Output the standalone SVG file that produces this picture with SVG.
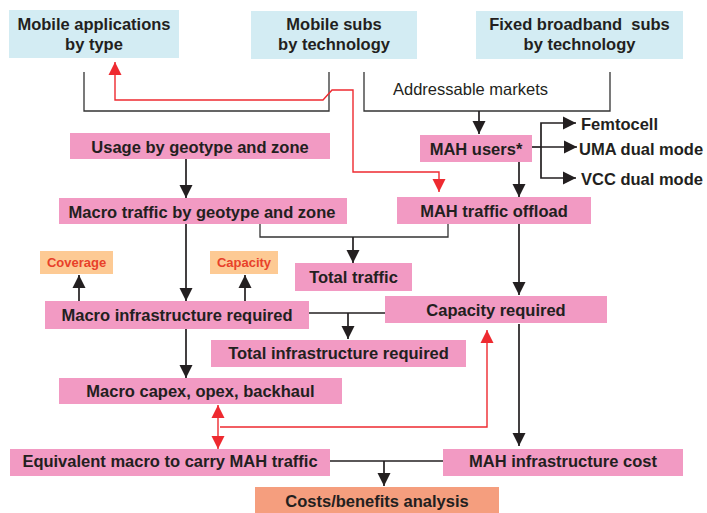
<svg xmlns="http://www.w3.org/2000/svg" width="707" height="513" viewBox="0 0 707 513">
<style>
.t{font-family:"Liberation Sans",Arial,sans-serif;font-weight:bold;font-size:16.5px;fill:#231f20;text-anchor:middle}
.s{font-family:"Liberation Sans",Arial,sans-serif;font-weight:bold;font-size:13px;fill:#e8412a;text-anchor:middle}
.n{font-family:"Liberation Sans",Arial,sans-serif;font-size:16.5px;fill:#231f20}
.l{font-family:"Liberation Sans",Arial,sans-serif;font-weight:bold;font-size:16.5px;fill:#231f20}
.blue{fill:#d3ecf3}
.pink{fill:#f29ac3}
.peach{fill:#fdca94}
.salmon{fill:#f59e7e}
.c{fill:none;stroke:#231f20;stroke-width:1.7}
.g{fill:none;stroke:#333;stroke-width:1.3}
.r{fill:none;stroke:#ee2a30;stroke-width:1.4}
</style>
<defs>
<marker id="ab" markerUnits="userSpaceOnUse" markerWidth="14" markerHeight="14" viewBox="0 0 14 14" refX="13" refY="7" orient="auto-start-reverse"><path d="M0,0.5 L13,7 L0,13.5 Z" fill="#231f20"/></marker>
<marker id="ar" markerUnits="userSpaceOnUse" markerWidth="14" markerHeight="14" viewBox="0 0 14 14" refX="13" refY="7" orient="auto-start-reverse"><path d="M0,0.5 L13,7 L0,13.5 Z" fill="#ee2a30"/></marker>
</defs>
<g id="connectors">
<polyline class="g" points="84,72 84,111 329,111 329,72"/>
<polyline class="g" points="364,72 364,111 610,111 610,72"/>
<line class="c" x1="479" y1="111" x2="479" y2="134" marker-end="url(#ab)"/>
<polyline class="r" points="115,62 115,100 323,100 332,90 353,90 353,172 439,172 439,192" marker-start="url(#ar)" marker-end="url(#ar)"/>
<polyline class="c" points="532,147 541,147"/>
<polyline class="c" points="576,123 541,123 541,178 576,178" marker-start="url(#ab)" marker-end="url(#ab)"/>
<line class="c" x1="541" y1="147" x2="577" y2="147" marker-end="url(#ab)"/>
<line class="c" x1="519" y1="162" x2="519" y2="197" marker-end="url(#ab)"/>
<polyline class="g" points="448,224 448,237 260,237 260,224"/>
<line class="c" x1="353" y1="237" x2="353" y2="263" marker-end="url(#ab)"/>
<line class="c" x1="186" y1="159" x2="186" y2="198" marker-end="url(#ab)"/>
<line class="c" x1="186" y1="224" x2="186" y2="301" marker-end="url(#ab)"/>
<line class="c" x1="79" y1="301" x2="79" y2="275" marker-end="url(#ab)"/>
<line class="c" x1="245" y1="301" x2="245" y2="275" marker-end="url(#ab)"/>
<line class="c" x1="519" y1="224" x2="519" y2="295" marker-end="url(#ab)"/>
<line class="c" x1="309" y1="313" x2="385" y2="313"/>
<line class="c" x1="348" y1="313" x2="348" y2="339" marker-end="url(#ab)"/>
<line class="c" x1="186" y1="329" x2="186" y2="378" marker-end="url(#ab)"/>
<line class="r" x1="218" y1="405" x2="218" y2="449" marker-start="url(#ar)" marker-end="url(#ar)"/>
<polyline class="r" points="220,427 487,427 487,330" marker-end="url(#ar)"/>
<line class="c" x1="519" y1="324" x2="519" y2="446" marker-end="url(#ab)"/>
<line class="c" x1="330" y1="461" x2="443" y2="461"/>
<line class="c" x1="384" y1="461" x2="384" y2="486" marker-end="url(#ab)"/>
</g>
<g id="mobile-apps"><rect class="blue" x="9" y="10" width="170" height="48"/><text class="t" x="94" y="30">Mobile applications</text><text class="t" x="94" y="50">by type</text></g>
<g id="mobile-subs"><rect class="blue" x="251" y="11" width="166" height="48"/><text class="t" x="334" y="30">Mobile subs</text><text class="t" x="334" y="50">by technology</text></g>
<g id="fixed-subs"><rect class="blue" x="476" y="11" width="207" height="48"/><text class="t" x="579.5" y="30" xml:space="preserve">Fixed broadband  subs</text><text class="t" x="579.5" y="50">by technology</text></g>
<g id="addressable"><text class="n" x="393" y="95">Addressable markets</text></g>
<g id="mah-users"><rect class="pink" x="420" y="135" width="112" height="27"/><text class="t" x="476" y="154.5">MAH users*</text></g>
<g id="femtocell"><text class="l" x="581" y="130">Femtocell</text></g>
<g id="uma"><text class="l" x="579" y="154.5">UMA dual mode</text></g>
<g id="vcc"><text class="l" x="581" y="185">VCC dual mode</text></g>
<g id="usage"><rect class="pink" x="70" y="133" width="260" height="26"/><text class="t" x="200" y="152.5">Usage by geotype and zone</text></g>
<g id="macro-traffic"><rect class="pink" x="59" y="198" width="288" height="26"/><text class="t" x="202" y="217.5">Macro traffic by geotype and zone</text></g>
<g id="mah-offload"><rect class="pink" x="397" y="197" width="194" height="27"/><text class="t" x="494" y="216.5">MAH traffic offload</text></g>
<g id="coverage"><rect class="peach" x="40" y="251" width="73" height="23"/><text class="s" x="76.5" y="267.3">Coverage</text></g>
<g id="capacity"><rect class="peach" x="210" y="251" width="68" height="23"/><text class="s" x="244" y="267.3">Capacity</text></g>
<g id="total-traffic"><rect class="pink" x="295" y="263" width="117" height="28"/><text class="t" x="353.5" y="282.7">Total traffic</text></g>
<g id="macro-infra"><rect class="pink" x="45" y="301" width="264" height="28"/><text class="t" x="177" y="321">Macro infrastructure required</text></g>
<g id="capacity-required"><rect class="pink" x="385" y="296" width="222" height="27"/><text class="t" x="496" y="315.7">Capacity required</text></g>
<g id="total-infra"><rect class="pink" x="211" y="340" width="255" height="27"/><text class="t" x="338.5" y="359">Total infrastructure required</text></g>
<g id="macro-capex"><rect class="pink" x="59" y="378" width="283" height="26"/><text class="t" x="200.5" y="396.7">Macro capex, opex, backhaul</text></g>
<g id="equivalent"><rect class="pink" x="10" y="449" width="320" height="27"/><text class="t" x="170" y="467.3">Equivalent macro to carry MAH traffic</text></g>
<g id="mah-cost"><rect class="pink" x="443" y="449" width="240" height="27"/><text class="t" x="563" y="467.3">MAH infrastructure cost</text></g>
<g id="costs"><rect class="salmon" x="255" y="487" width="244" height="26"/><text class="t" x="377" y="506.7">Costs/benefits analysis</text></g>
</svg>
